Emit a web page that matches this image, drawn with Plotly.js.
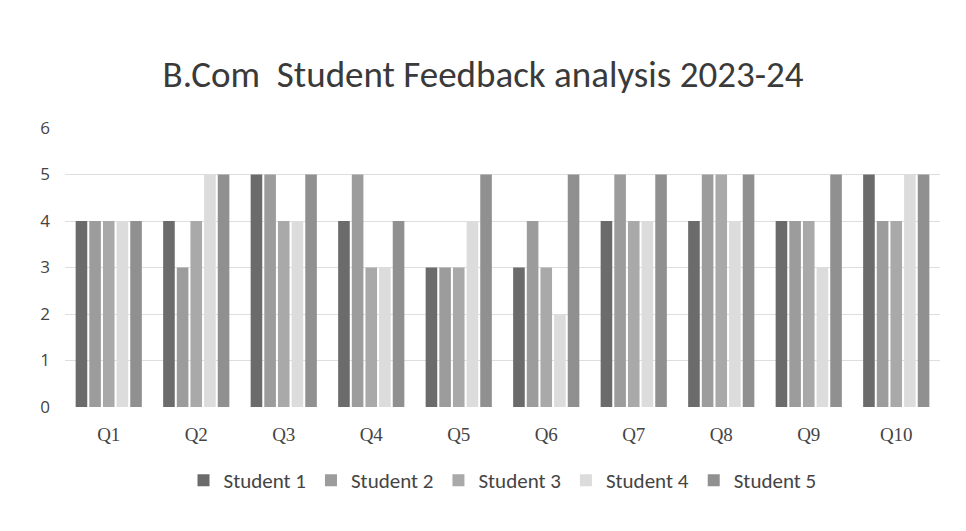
<!DOCTYPE html>
<html>
<head>
<meta charset="utf-8">
<script src="https://cdn.plot.ly/plotly-3.0.1.min.js"></script>
<style>html,body{margin:0;padding:0;background:#fff;}#chart{width:966px;height:531px;}</style>
</head>
<body>
<div id="chart"></div>
<script>
const categories = ["Q1","Q2","Q3","Q4","Q5","Q6","Q7","Q8","Q9","Q10"];
const seriesNames = ["Student 1","Student 2","Student 3","Student 4","Student 5"];
const student1 = [4,4,5,4,3,3,4,4,4,5];
const student2 = [4,3,5,5,3,4,5,5,4,4];
const student3 = [4,4,4,3,3,3,4,5,4,4];
const student4 = [4,5,4,3,4,2,4,4,3,5];
const student5 = [4,5,5,4,5,5,5,5,5,5];
const yTicks = [0,1,2,3,4,5,6];

const seriesValues = [student1, student2, student3, student4, student5];
const colors = ["#6b6b6b","#9c9c9c","#a9a9a9","#dcdcdc","#909090"];

const traces = seriesNames.map((n,i)=>({
  type:"bar", name:n, x:categories, y:seriesValues[i],
  marker:{color:colors[i]}
}));

const layout = {
  width:966, height:531,
  paper_bgcolor:"#ffffff", plot_bgcolor:"#ffffff",
  margin:{l:65,r:26,t:128,b:124},
  title:{text:"B.Com  Student Feedback analysis 2023-24", x:0.5, xanchor:"center", y:0.86, yanchor:"middle",
    font:{family:"Calibri, Carlito, 'Open Sans', sans-serif", size:37, color:"#3a3a3a"}},
  barmode:"group", bargap:0.22, bargroupgap:0.15,
  xaxis:{tickfont:{family:"'Liberation Serif', serif", size:19, color:"#444"}, showline:false, ticks:"", ticklabelstandoff:14},
  yaxis:{range:[0,6], tickvals:yTicks, gridcolor:"#dedede", zeroline:false,
    tickfont:{family:"'Open Sans', sans-serif", size:17, color:"#444"}, ticks:"", ticklabelstandoff:14},
  legend:{orientation:"h", x:0.5, xanchor:"center", y:-0.19, yanchor:"top",
    font:{family:"Carlito, 'Open Sans', sans-serif", size:21, color:"#444"}, itemwidth:30, tracegroupgap:0},
  showlegend:true
};

Plotly.newPlot("chart", traces, layout, {staticPlot:true});
</script>
</body>
</html>
